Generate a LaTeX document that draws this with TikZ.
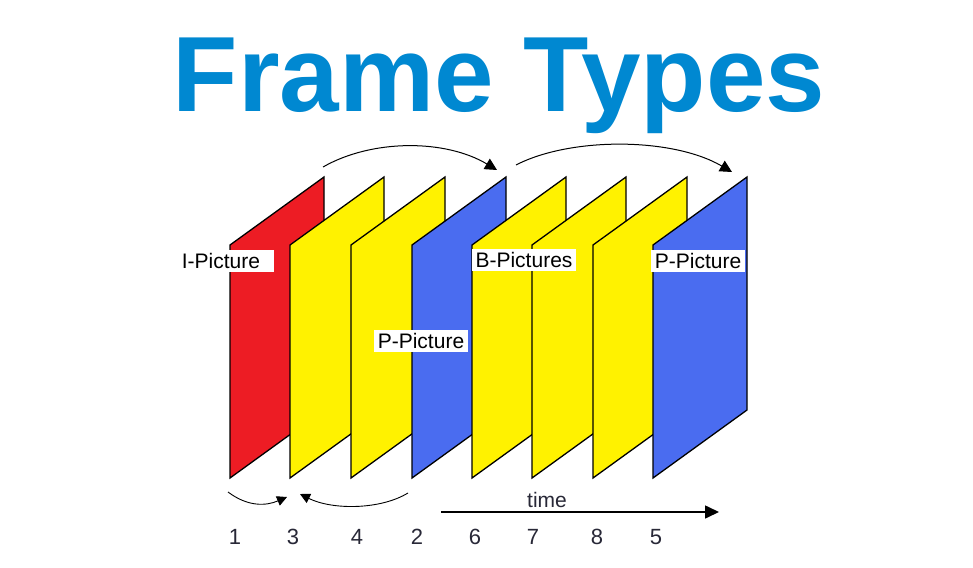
\documentclass[tikz,border=0pt]{standalone}
\usepackage{fontspec}
\setmainfont{Liberation Sans}
\usetikzlibrary{arrows.meta}
\definecolor{ired}{RGB}{237,28,36}
\definecolor{byellow}{RGB}{255,242,0}
\definecolor{pblue}{RGB}{74,108,240}
\definecolor{titleblue}{RGB}{0,136,209}
\definecolor{numgray}{RGB}{40,40,55}
\tikzset{
    frame-pane/.style = {draw=black, line width=1.3pt},
    pic-label/.style = {fill=white, inner xsep=4pt, inner ysep=3pt, font=\fontsize{21}{24}\selectfont},
    seq-num/.style = {text=numgray, font=\fontsize{22}{24}\selectfont},
    order-arrow/.style = {line width=1pt, -{Triangle[length=12pt,width=12pt]}},
    time-arrow/.style = {line width=1.6pt, -{Triangle[length=14pt,width=13pt]}},
}

\begin{document}
\begin{tikzpicture}[x=1pt,y=-1pt]
\useasboundingbox[fill=white] (0,0) rectangle (973,567);
\node[text=titleblue, font=\fontsize{107}{110}\selectfont\bfseries, anchor=base] (title) at (499,112) {Frame Types};
% the eight pictures, in display order
\draw[frame-pane, fill=ired] (230,478) -- (230,245) -- (324,177) -- (324,410) -- cycle;
\draw[frame-pane, fill=byellow] (290,478) -- (290,245) -- (384,177) -- (384,410) -- cycle;
\draw[frame-pane, fill=byellow] (351,478) -- (351,245) -- (445,177) -- (445,410) -- cycle;
\draw[frame-pane, fill=pblue] (412,478) -- (412,245) -- (506,177) -- (506,410) -- cycle;
\draw[frame-pane, fill=byellow] (472,478) -- (472,245) -- (566,177) -- (566,410) -- cycle;
\draw[frame-pane, fill=byellow] (532,478) -- (532,245) -- (626,177) -- (626,410) -- cycle;
\draw[frame-pane, fill=byellow] (593,478) -- (593,245) -- (687,177) -- (687,410) -- cycle;
\draw[frame-pane, fill=pblue] (653,478) -- (653,245) -- (747,177) -- (747,410) -- cycle;
% labels
\node[pic-label, minimum width=106pt] (i-pic) at (221,261) {I-Picture};
\node[pic-label] (p-pic) at (421,341) {P-Picture};
\node[pic-label] (b-pics) at (524,260) {B-Pictures};
\node[pic-label] (p-pic2) at (698,261) {P-Picture};
% prediction arrows
\coordinate (i-top) at (323,167);
\coordinate (p-top) at (497,170);
\coordinate (p-top2) at (516,165);
\coordinate (p2-top) at (732,172);
\draw[order-arrow] (i-top) .. controls (372,139) and (445,139) .. (p-top);
\draw[order-arrow] (p-top2) .. controls (570,137) and (672,137) .. (p2-top);
% coding order arrows
\coordinate (i-bot) at (228,492);
\coordinate (b-bot) at (287,497);
\coordinate (p-bot) at (408,493);
\coordinate (b-bot2) at (300,494);
\draw[order-arrow, line width=0.9pt, -{Triangle[length=10pt,width=10pt]}] (i-bot) .. controls (248,507) and (266,506) .. (b-bot);
\draw[order-arrow, line width=0.9pt, -{Triangle[length=10pt,width=10pt]}] (p-bot) .. controls (380,510) and (332,510) .. (b-bot2);
% time axis
\coordinate (time-start) at (441,512);
\coordinate (time-end) at (719,512);
\draw[time-arrow] (time-start) -- (time-end);
\node[pic-label, fill=none, text=numgray] (time-lbl) at (547,500) {time};
% transmission order
\node[seq-num] (n1) at (235,537) {1};
\node[seq-num] (n2) at (293,537) {3};
\node[seq-num] (n3) at (357,537) {4};
\node[seq-num] (n4) at (417,537) {2};
\node[seq-num] (n5) at (475,537) {6};
\node[seq-num] (n6) at (533,537) {7};
\node[seq-num] (n7) at (597,537) {8};
\node[seq-num] (n8) at (656,537) {5};
\end{tikzpicture}
\end{document}
